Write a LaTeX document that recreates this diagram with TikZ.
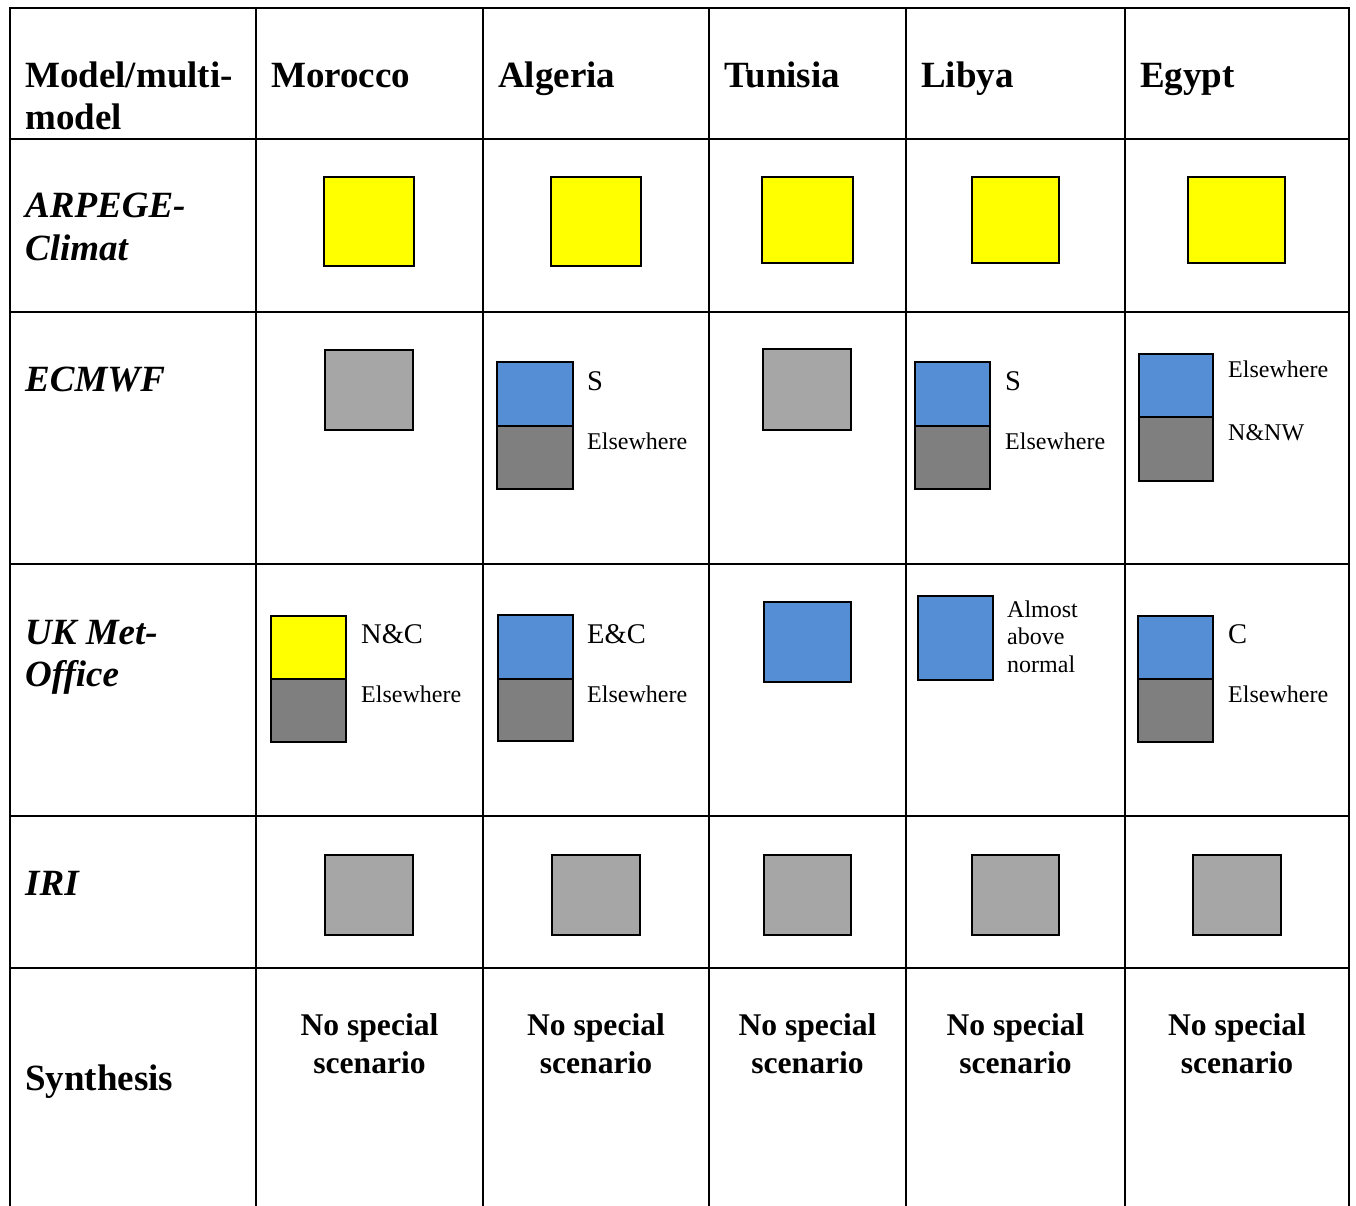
\documentclass[tikz,border=0pt]{standalone}
\usepackage{fontspec}
\setmainfont{Liberation Serif}
\definecolor{cyel}{RGB}{255,255,0}
\definecolor{cblue}{RGB}{85,142,213}
\definecolor{clgray}{RGB}{166,166,166}
\definecolor{cdgray}{RGB}{127,127,127}
\tikzset{
  gridline/.style={line width=2.5pt, line cap=rect},
  cellbox/.style={draw, line width=2pt, inner sep=0pt, outer sep=0pt, anchor=north west},
  hdr/.style={inner sep=0pt, anchor=base west, font=\fontsize{37}{42}\selectfont\bfseries},
  rowlbl/.style={inner sep=0pt, anchor=base west, font=\fontsize{37}{42}\selectfont\bfseries\itshape},
  biglbl/.style={inner sep=0pt, anchor=base west, font=\fontsize{28.5}{32}\selectfont},
  smalllbl/.style={inner sep=0pt, anchor=base west, font=\fontsize{24}{27.5}\selectfont},
  synth/.style={inner sep=0pt, anchor=base, align=center, font=\fontsize{31.6}{38}\selectfont\bfseries},
}
\begin{document}
\begin{tikzpicture}[x=1pt,y=-1pt]
\useasboundingbox (0,0) rectangle (1356,1205);
% grid
\foreach \x in {10,256,483,709,906,1125,1349} \draw[gridline] (\x,8) -- (\x,1210);
\foreach \y in {8,139,312,564,816,968} \draw[gridline] (10,\y) -- (1349,\y);
% header
\node[hdr] (h0a) at (25,87) {Model/multi-};
\node[hdr] (h0b) at (25,129) {model};
\node[hdr] (h1) at (271,87) {Morocco};
\node[hdr] (h2) at (498,87) {Algeria};
\node[hdr] (h3) at (724,87) {Tunisia};
\node[hdr] (h4) at (921,87) {Libya};
\node[hdr] (h5) at (1140,87) {Egypt};
% row labels
\node[rowlbl] (r1a) at (25,217) {ARPEGE-};
\node[rowlbl] (r1b) at (25,260) {Climat};
\node[rowlbl] (r2) at (25,391) {ECMWF};
\node[rowlbl] (r3a) at (25,644) {UK Met-};
\node[rowlbl] (r3b) at (25,686) {Office};
\node[rowlbl] (r4) at (25,895) {IRI};
\node[hdr] (r5) at (25,1090) {Synthesis};
% ARPEGE row
\node[cellbox, fill=cyel, minimum width=90, minimum height=89] (a1) at (324,177) {};
\node[cellbox, fill=cyel, minimum width=90, minimum height=89] (a2) at (551,177) {};
\node[cellbox, fill=cyel, minimum width=91, minimum height=86] (a3) at (762,177) {};
\node[cellbox, fill=cyel, minimum width=87, minimum height=86] (a4) at (972,177) {};
\node[cellbox, fill=cyel, minimum width=97, minimum height=86] (a5) at (1188,177) {};
% ECMWF row
\node[cellbox, fill=clgray, minimum width=88, minimum height=80] (e1) at (325,350) {};
\node[cellbox, fill=cblue, minimum width=76, minimum height=64] (e2t) at (497,362) {};
\node[cellbox, fill=cdgray, minimum width=76, minimum height=63] (e2b) at (497,426) {};
\node[biglbl] (e2s) at (587,390) {S};
\node[smalllbl] (e2e) at (587,449) {Elsewhere};
\node[cellbox, fill=clgray, minimum width=88, minimum height=81] (e3) at (763,349) {};
\node[cellbox, fill=cblue, minimum width=75, minimum height=64] (e4t) at (915,362) {};
\node[cellbox, fill=cdgray, minimum width=75, minimum height=63] (e4b) at (915,426) {};
\node[biglbl] (e4s) at (1005,390) {S};
\node[smalllbl] (e4e) at (1005,449) {Elsewhere};
\node[cellbox, fill=cblue, minimum width=74, minimum height=63] (e5t) at (1139,354) {};
\node[cellbox, fill=cdgray, minimum width=74, minimum height=64] (e5b) at (1139,417) {};
\node[smalllbl] (e5e) at (1228,377) {Elsewhere};
\node[smalllbl] (e5n) at (1228,440) {N\&NW};
% UK Met-Office row
\node[cellbox, fill=cyel, minimum width=75, minimum height=63] (u1t) at (271,616) {};
\node[cellbox, fill=cdgray, minimum width=75, minimum height=63] (u1b) at (271,679) {};
\node[biglbl] (u1s) at (361,643) {N\&C};
\node[smalllbl] (u1e) at (361,702) {Elsewhere};
\node[cellbox, fill=cblue, minimum width=75, minimum height=64] (u2t) at (498,615) {};
\node[cellbox, fill=cdgray, minimum width=75, minimum height=62] (u2b) at (498,679) {};
\node[biglbl] (u2s) at (587,643) {E\&C};
\node[smalllbl] (u2e) at (587,702) {Elsewhere};
\node[cellbox, fill=cblue, minimum width=87, minimum height=80] (u3) at (764,602) {};
\node[cellbox, fill=cblue, minimum width=75, minimum height=84] (u4) at (918,596) {};
\node[smalllbl, align=left] (u4t) at (1007,672) {Almost\\above\\normal};
\node[cellbox, fill=cblue, minimum width=75, minimum height=63] (u5t) at (1138,616) {};
\node[cellbox, fill=cdgray, minimum width=75, minimum height=63] (u5b) at (1138,679) {};
\node[biglbl] (u5s) at (1228,643) {C};
\node[smalllbl] (u5e) at (1228,702) {Elsewhere};
% IRI row
\node[cellbox, fill=clgray, minimum width=88, minimum height=80] (i1) at (325,855) {};
\node[cellbox, fill=clgray, minimum width=88, minimum height=80] (i2) at (552,855) {};
\node[cellbox, fill=clgray, minimum width=87, minimum height=80] (i3) at (764,855) {};
\node[cellbox, fill=clgray, minimum width=87, minimum height=80] (i4) at (972,855) {};
\node[cellbox, fill=clgray, minimum width=88, minimum height=80] (i5) at (1193,855) {};
% Synthesis row
\node[synth] (s1) at (369.5,1073) {No special\\scenario};
\node[synth] (s2) at (596,1073) {No special\\scenario};
\node[synth] (s3) at (807.5,1073) {No special\\scenario};
\node[synth] (s4) at (1015.5,1073) {No special\\scenario};
\node[synth] (s5) at (1237,1073) {No special\\scenario};
\end{tikzpicture}
\end{document}
